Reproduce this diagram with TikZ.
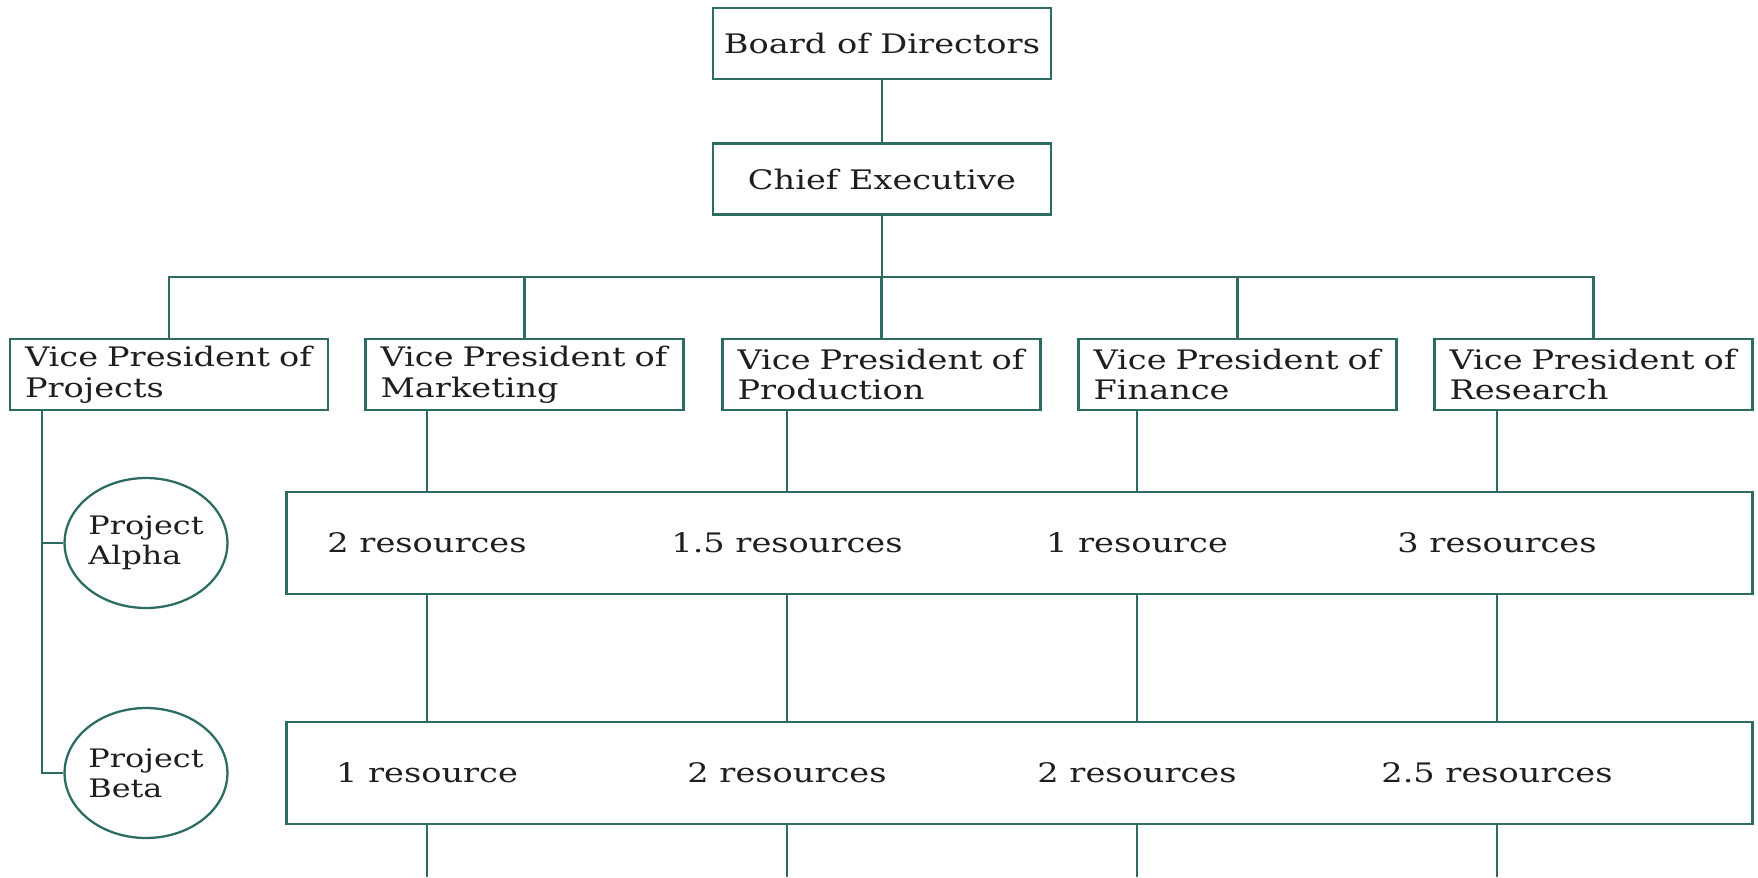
\documentclass[tikz,border=0pt]{standalone}
\usepackage{fontspec}
\setmainfont{DejaVu Serif}[FakeStretch=1.25]
\usepackage{tikz}
\usetikzlibrary{shapes.geometric,positioning}
\definecolor{orgteal}{RGB}{44,108,98}
\definecolor{orgtext}{RGB}{30,30,30}
\tikzstyle{link} = [line width=1.6pt, color=orgteal]
\tikzstyle{topbox} = [rectangle, draw=orgteal, line width=1.6pt, minimum width=6.76cm, minimum height=1.42cm, text=orgtext]
\tikzstyle{vpbox} = [rectangle, draw=orgteal, line width=1.6pt, minimum width=6.36cm, minimum height=1.42cm, text width=5.76cm, align=left, inner xsep=0.3cm, inner ysep=1pt, text=orgtext]
\tikzstyle{rowbox} = [rectangle, draw=orgteal, line width=1.6pt, minimum width=29.34cm, minimum height=2.04cm]
\tikzstyle{project} = [ellipse, draw=orgteal, line width=1.3pt, minimum width=3.22cm, minimum height=2.6cm, inner sep=0pt, align=left, text=orgtext, font=\fontsize{14.5}{17}\selectfont]
\tikzstyle{amount} = [text=orgtext]

\begin{document}
\begin{tikzpicture}[x=0.02cm, y=-0.02cm, font=\fontsize{15.3}{17.5}\selectfont]
\useasboundingbox (0,0) rectangle (1758,877);

% Top management
\node (board) [topbox] at (882,43.5) {Board of Directors};
\node (ceo) [topbox] at (882,179) {Chief Executive};
\draw[link] (board) -- (ceo);

% Vice presidents
\node (proj) [vpbox] at (169,374.5) {Vice President of\\Projects};
\node (mkt) [vpbox] at (524.5,374.5) {Vice President of\\Marketing};
\node (prod) [vpbox] at (881.5,374.5) {Vice President of\\Production};
\node (fin) [vpbox] at (1237.5,374.5) {Vice President of\\Finance};
\node (res) [vpbox] at (1593.5,374.5) {Vice President of\\Research};

\coordinate (bus) at (882,277);
\draw[link] (ceo) -- (bus);
\draw[link] (proj.north) |- (bus) -| (res.north);
\draw[link] (mkt.north) -- (mkt.north |- bus);
\draw[link] (prod.north) -- (prod.north |- bus);
\draw[link] (fin.north) -- (fin.north |- bus);

% Projects
\node (alpha) [rowbox] at (1019.5,543) {};
\node (beta) [rowbox] at (1019.5,773) {};
\node (pa) [project] at (146,543) {Project\\Alpha};
\node (pb) [project] at (146,773) {Project\\Beta};

\coordinate (spine) at (42,410);
\draw[link] (proj.south -| spine) |- (pb.west);
\draw[link] (spine |- pa.west) -- (pa.west);

% Resources per project
\node (ra1) [amount] at (427,543) {2 resources};
\node (ra2) [amount] at (787,543) {1.5 resources};
\node (ra3) [amount] at (1137,543) {1 resource};
\node (ra4) [amount] at (1497,543) {3 resources};
\node (rb1) [amount] at (427,773) {1 resource};
\node (rb2) [amount] at (787,773) {2 resources};
\node (rb3) [amount] at (1137,773) {2 resources};
\node (rb4) [amount] at (1497,773) {2.5 resources};

\coordinate (bottom) at (0,877);
\foreach \vp/\col in {mkt/ra1, prod/ra2, fin/ra3, res/ra4} {
  \draw[link] (\vp.south -| \col) -- (alpha.north -| \col);
  \draw[link] (alpha.south -| \col) -- (beta.north -| \col);
  \draw[link] (beta.south -| \col) -- (bottom -| \col);
}
\end{tikzpicture}
\end{document}
